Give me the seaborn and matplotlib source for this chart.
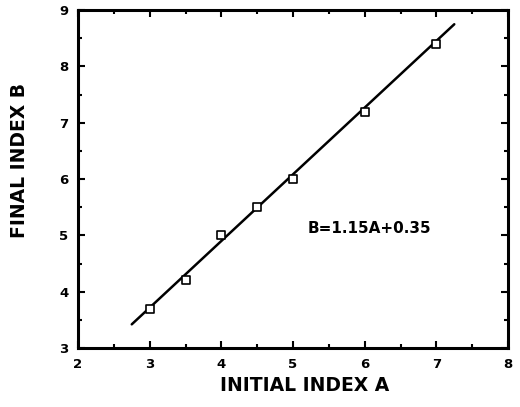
import matplotlib
matplotlib.use("Agg")
import matplotlib.pyplot as plt
from matplotlib.ticker import MultipleLocator
import pandas as pd
import seaborn as sns

# measured points
initial_a = [3.0, 3.5, 4.0, 4.5, 5.0, 6.0, 7.0]
final_b = [3.7, 4.2, 5.0, 5.5, 6.0, 7.2, 8.4]

# fitted line end points
fit_a = [2.75, 7.25]
fit_b = [3.42, 8.75]

x_ticks = [2, 3, 4, 5, 6, 7, 8]
y_ticks = [3, 4, 5, 6, 7, 8, 9]

pts = pd.DataFrame({'A': initial_a, 'B': final_b})
fit = pd.DataFrame({'A': fit_a, 'B': fit_b})

sns.set_style("ticks")
plt.rcParams['font.family'] = ['DejaVu Sans']
plt.rcParams['font.weight'] = 'bold'
plt.rcParams['text.color'] = 'black'
plt.rcParams['axes.labelcolor'] = 'black'
plt.rcParams['xtick.color'] = 'black'
plt.rcParams['ytick.color'] = 'black'
plt.rcParams['axes.edgecolor'] = 'black'

fig = plt.figure(figsize=(5.2, 4.07), dpi=100)
ax = fig.add_axes([0.15, 0.145, 0.827, 0.83])

sns.lineplot(x='A', y='B', data=fit, color='black', linewidth=1.8, ax=ax)
sns.scatterplot(x='A', y='B', data=pts, marker='s', s=30, facecolor='white',
                edgecolor='black', linewidth=1.2, zorder=3, ax=ax)

ax.set_xlim(2, 8)
ax.set_ylim(3, 9)
ax.set_xticks(x_ticks)
ax.set_yticks(y_ticks)
ax.xaxis.set_minor_locator(MultipleLocator(0.5))
ax.yaxis.set_minor_locator(MultipleLocator(0.5))
ax.tick_params(which='both', direction='in', top=True, right=True, width=1.5)
ax.tick_params(which='major', length=5, labelsize=9.5, pad=7)
ax.tick_params(which='minor', length=3)
for lbl in ax.get_xticklabels() + ax.get_yticklabels():
    lbl.set_fontweight('bold')
for sp in ax.spines.values():
    sp.set_linewidth(2.2)

ax.set_xlabel('INITIAL INDEX A', fontsize=13.5, fontweight='bold')
ax.set_ylabel('FINAL INDEX B', fontsize=13.5, fontweight='bold')
ax.xaxis.set_label_coords(0.526, -0.112)
ax.yaxis.set_label_coords(-0.135, 0.556)
ax.xaxis.label.set_va('center')
ax.yaxis.label.set_va('center')
ax.text(5.2, 5.13, 'B=1.15A+0.35', fontsize=11, fontweight='bold', va='center')

fig.savefig('out.png', dpi=100)
